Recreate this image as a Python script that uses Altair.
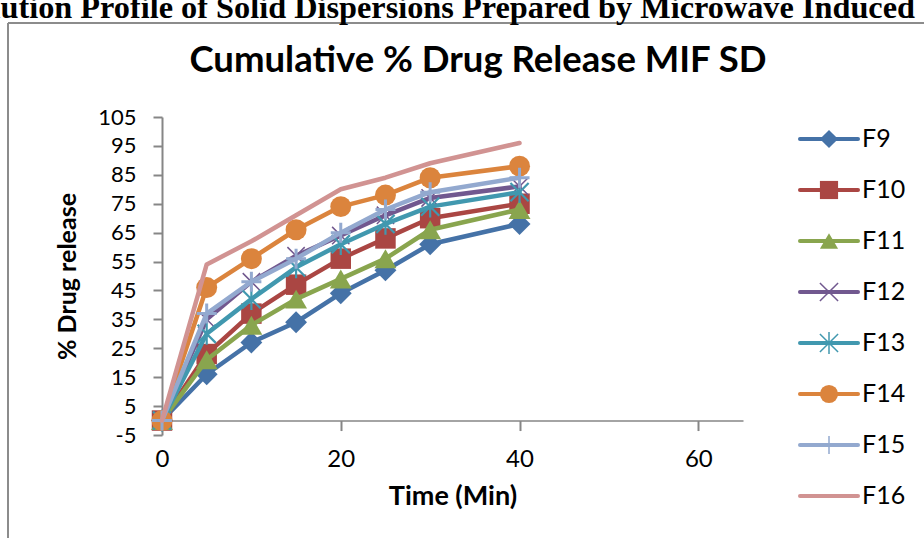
import altair as alt
import pandas as pd

# ---- data ----
time_min = [0, 5, 10, 15, 20, 25, 30, 40]
series = ["F9", "F10", "F11", "F12", "F13", "F14", "F15", "F16"]
F9 = [0, 16, 27, 34, 44, 52, 61, 68]
F10 = [0, 23, 37, 47, 56, 63, 70, 75]
F11 = [0, 21, 33, 42, 49, 56, 66, 73]
F12 = [0, 35, 48, 57, 64, 71, 77, 81]
F13 = [0, 30, 42, 53, 61, 68, 74, 79]
F14 = [0, 46, 56, 66, 74, 78, 84, 88]
F15 = [0, 37, 48, 56, 65, 73, 79, 84]
F16 = [0, 54, 62, 71, 80, 84, 89, 96]
values = [F9, F10, F11, F12, F13, F14, F15, F16]
y_ticks = [-5, 5, 15, 25, 35, 45, 55, 65, 75, 85, 95, 105]
x_ticks = [0, 20, 40, 60]

title_text = "Cumulative % Drug Release MIF SD"
super_text = "In Vitro Dissolution Profile of Solid Dispersions Prepared by Microwave Induced"

colors = ["#4572A7", "#AA4643", "#89A54E", "#71588F", "#4198AF", "#DB843D", "#93A9CF", "#D19392"]
X_PATH = "M-1,-1L1,1M-1,1L1,-1"
AST_PATH = "M-1,-1L1,1M-1,1L1,-1M0,-1.2L0,1.2"
PLUS_PATH = "M-1,0L1,0M0,-1L0,1"
shapes = ["diamond", "square", "triangle-up", X_PATH, AST_PATH, "circle", PLUS_PATH, "circle"]
filled_series = ["F9", "F10", "F11", "F14"]
stroked_series = ["F12", "F13", "F15"]
marker_size = {"F9": 480, "F10": 420, "F11": 480, "F12": 300, "F13": 330, "F14": 440, "F15": 400}
marker_stroke = {"F12": 1.5, "F13": 2.2, "F15": 3}

rows = []
for s, vals in zip(series, values):
    for t, v in zip(time_min, vals):
        rows.append({"series": s, "time": t, "release": v})
df = pd.DataFrame(rows)

FONT = "Lato"
AXIS_GRAY = "#868686"

color_enc = alt.Color("series:N", scale=alt.Scale(domain=series, range=colors), legend=None)
shape_enc = alt.Shape("series:N", scale=alt.Scale(domain=series, range=shapes), legend=None)

x_enc = alt.X(
    "time:Q",
    scale=alt.Scale(domain=[0, 65], nice=False, zero=False),
    axis=alt.Axis(
        values=x_ticks, title="Time (Min)", grid=False, offset=-14.45, labelFlush=False,
        domainColor=AXIS_GRAY, domainWidth=1.5, tickColor=AXIS_GRAY, tickWidth=2, tickSize=10,
        labelFont=FONT, labelFontSize=24, labelColor="black", labelPadding=17,
        titleFont=FONT, titleFontSize=27, titleFontWeight="bold", titleColor="black", titlePadding=12,
    ),
)
y_enc = alt.Y(
    "release:Q",
    scale=alt.Scale(domain=[-5, 105], nice=False, zero=False),
    axis=alt.Axis(
        values=y_ticks, title="% Drug release", grid=False, labelFlush=False,
        labelExpr="'' + datum.value",
        domainColor=AXIS_GRAY, domainWidth=2, tickColor=AXIS_GRAY, tickWidth=2, tickSize=9,
        labelFont=FONT, labelFontSize=22, labelColor="black", labelPadding=17,
        titleFont=FONT, titleFontSize=25, titleFontWeight="bold", titleColor="black", titlePadding=17,
    ),
)

base = alt.Chart(df)
layers = []
for s in series:
    sub = base.transform_filter(alt.datum.series == s)
    layers.append(
        sub.mark_line(strokeWidth=4.5, strokeCap="round", strokeJoin="round").encode(
            x=x_enc, y=y_enc, color=color_enc, detail="series:N"
        )
    )
    if s in filled_series:
        layers.append(
            sub.mark_point(filled=True, opacity=1, size=marker_size[s]).encode(
                x=x_enc, y=y_enc, color=color_enc, shape=shape_enc
            )
        )
    elif s in stroked_series:
        layers.append(
            sub.mark_point(filled=False, opacity=1, size=marker_size[s], strokeWidth=marker_stroke[s]).encode(
                x=x_enc, y=y_enc, color=color_enc, shape=shape_enc
            )
        )
main = alt.layer(*layers)

# ---- legend built from the series list ----
leg_df = pd.DataFrame({"series": series})
leg_y = alt.Y("series:N", sort=series, scale=alt.Scale(type="point", range=[22, 379], padding=0), axis=None)
leg_base = alt.Chart(leg_df)
leg_line = leg_base.mark_rule(strokeWidth=4, strokeCap="round").encode(
    x=alt.value(638), x2=alt.value(696), y=leg_y, color=color_enc
)
leg_fill = leg_base.transform_filter(
    alt.FieldOneOfPredicate(field="series", oneOf=filled_series)
).mark_point(filled=True, opacity=1, size=330).encode(
    x=alt.value(667), y=leg_y, color=color_enc, shape=shape_enc
)
leg_stroke = leg_base.transform_filter(
    alt.FieldOneOfPredicate(field="series", oneOf=stroked_series)
).mark_point(filled=False, opacity=1, size=330, strokeWidth=1.5).encode(
    x=alt.value(667), y=leg_y, color=color_enc, shape=shape_enc
)
leg_text = leg_base.mark_text(
    align="left", baseline="middle", font=FONT, fontSize=25, color="black"
).encode(x=alt.value(700), y=leg_y, text="series:N")
legend = alt.layer(leg_line, leg_fill, leg_stroke, leg_text)

# ---- titles and frame ----
title_layer = alt.Chart(pd.DataFrame({"t": [title_text]})).mark_text(
    align="center", baseline="alphabetic", font=FONT, fontSize=36.5, fontWeight="bold", color="black"
).encode(x=alt.value(316), y=alt.value(-45), text="t:N")
super_layer = alt.Chart(pd.DataFrame({"t": [super_text]})).mark_text(
    align="right", baseline="alphabetic", font="Liberation Serif", fontSize=32.3, fontWeight="bold", color="black"
).encode(x=alt.value(753), y=alt.value(-99), text="t:N")
frame_df = pd.DataFrame({"k": [0]})
frame_top = alt.Chart(frame_df).mark_rule(color="#8c8c8c", strokeWidth=2).encode(
    x=alt.value(-154), x2=alt.value(770), y=alt.value(-94)
)
frame_left = alt.Chart(frame_df).mark_rule(color="#8c8c8c", strokeWidth=2).encode(
    x=alt.value(-154), y=alt.value(-94), y2=alt.value(430)
)
deco = alt.layer(frame_top, frame_left, super_layer, title_layer)

chart = (
    alt.layer(main, legend, deco)
    .resolve_scale(y="independent")
    .properties(
        width=581, height=318,
        padding={"left": 162, "top": 117, "right": 181, "bottom": 103},
        autosize=alt.AutoSizeParams(type="none"),
        background="white",
    )
    .configure_view(stroke=None)
)

chart.save("out.html", embed_options={"renderer": "svg", "actions": False})
